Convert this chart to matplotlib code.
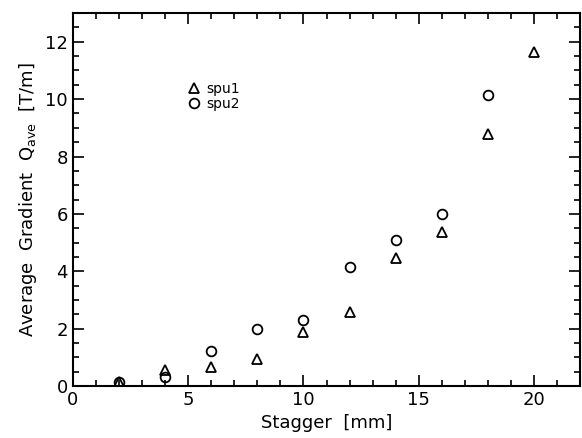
import matplotlib.pyplot as plt
import numpy as np

# Stagger [mm] and average gradient [T/m]
stagger1 = [2, 4, 6, 8, 10, 12, 14, 16, 18, 20]
spu1 = [0.15, 0.57, 0.67, 0.95, 1.88, 2.57, 4.45, 5.35, 8.8, 11.65]
stagger2 = [2, 4, 6, 8, 10, 12, 14, 16, 18]
spu2 = [0.15, 0.32, 1.2, 2.0, 2.3, 4.15, 5.1, 6.0, 10.15]

fig = plt.figure(figsize=(5.82, 4.38), dpi=100)
ax = fig.add_axes([0.125, 0.119, 0.872, 0.851])

ax.plot(stagger1, spu1, linestyle='none', marker='^', markersize=7,
        markerfacecolor='none', markeredgecolor='black', markeredgewidth=1.3, label='spu1')
ax.plot(stagger2, spu2, linestyle='none', marker='o', markersize=7,
        markerfacecolor='none', markeredgecolor='black', markeredgewidth=1.3, label='spu2')

ax.set_xlim(0, 22)
ax.set_ylim(0, 13)
ax.set_xticks([0, 5, 10, 15, 20])
ax.set_xticks(np.arange(0, 23, 1), minor=True)
ax.set_yticks([0, 2, 4, 6, 8, 10, 12])
ax.set_yticks(np.arange(0, 13.5, 0.5), minor=True)
ax.tick_params(which='both', direction='in', top=True, right=True, labelsize=13, width=1.2)
ax.tick_params(which='major', length=8)
ax.tick_params(which='minor', length=4)
for s in ax.spines.values():
    s.set_linewidth(1.5)

ax.set_xlabel('Stagger  [mm]', fontsize=13)
ax.set_ylabel('Average  Gradient  Q$_{\\mathregular{ave}}$  [T/m]', fontsize=13)

ax.legend(loc='upper left', bbox_to_anchor=(0.2, 0.85), frameon=False, fontsize=10,
          handletextpad=0.4, labelspacing=0.1, handlelength=1)

plt.savefig('out.png', dpi=100)
